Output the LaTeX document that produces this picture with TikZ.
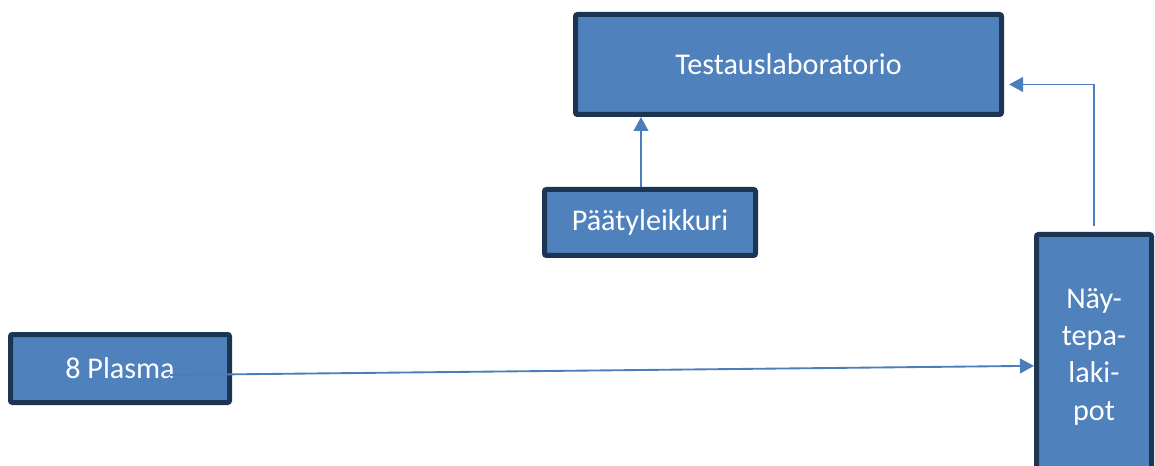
\documentclass[tikz,border=0pt]{standalone}
\usepackage{fontspec}
\setmainfont{Carlito}
\usetikzlibrary{arrows.meta, positioning, calc}
\definecolor{BoxFill}{HTML}{4F81BD}
\definecolor{BoxEdge}{HTML}{1C3553}
\definecolor{FlowLine}{HTML}{4A7EBB}
\tikzset{
  >={Triangle[length=10.5pt,width=11pt]},
  % laatikot
  stage/.style={draw=BoxEdge,fill=BoxFill,line width=3.75pt,rounded corners=1.5pt,
    text=white,font=\fontsize{22.6}{28}\selectfont,inner sep=0pt},
  % nuolet
  flow/.style={->,FlowLine,line width=1.4pt}
}
\begin{document}
\begin{tikzpicture}[x=0.75pt,y=-0.75pt]
  \useasboundingbox (0,0) rectangle (1155,466);
  \node[stage,minimum width=319.5pt,minimum height=75pt] (testaus) at (788.5,64.5) {Testauslaboratorio};
  \node[stage,minimum width=158.25pt,minimum height=49.5pt] (paatyleikkuri) at (650,222.5) {Päätyleikkuri};
  \node[stage,minimum width=164.25pt,minimum height=51pt] (plasma) at (120,368.5) {8 Plasma};
  \node[stage,minimum width=86.25pt,minimum height=183pt,align=center] (nayte) at (1094,356.5) {Näy-\\tepa-\\laki-\\pot};
  \coordinate (plasmaout) at (170,375);

  \draw[flow] ([xshift=-6.75pt]paatyleikkuri.north) -- ([xshift=-6.75pt]paatyleikkuri.north |- testaus.south);
  \draw[flow,shorten <=4.5pt,shorten >=3.75pt] (nayte.north) |- ([yshift=-15pt]testaus.east);
  \draw[flow] (plasmaout) -- ([yshift=-7pt]nayte.west);
\end{tikzpicture}
\end{document}
